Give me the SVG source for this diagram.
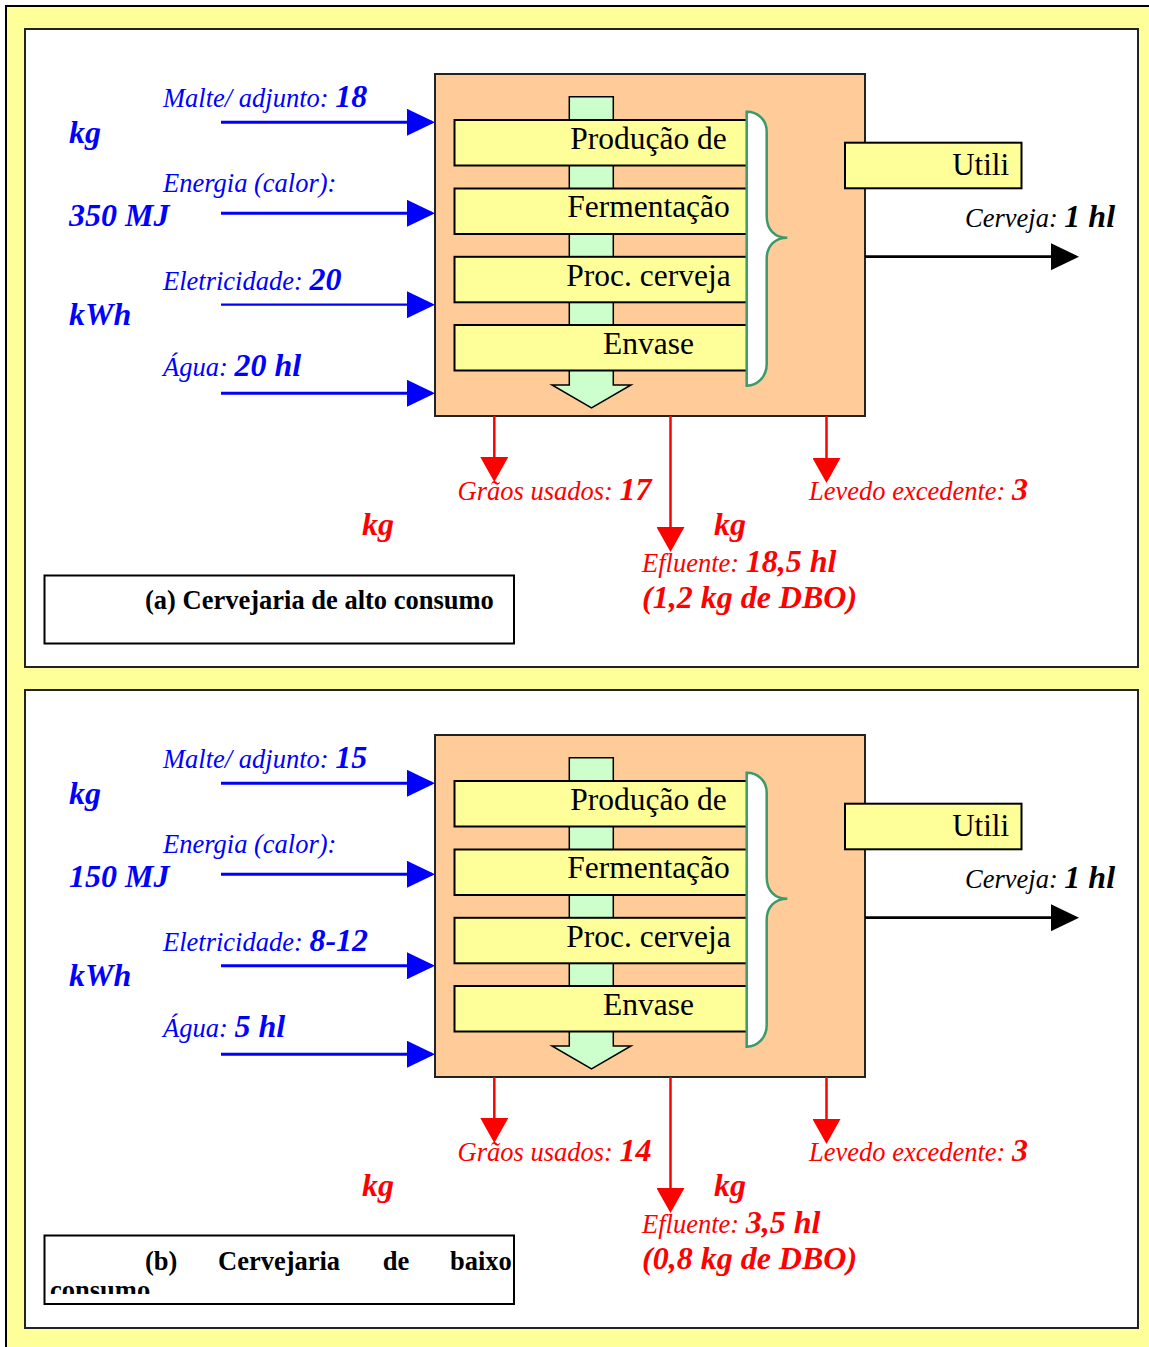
<svg xmlns="http://www.w3.org/2000/svg" width="1149" height="1347" viewBox="0 0 1149 1347">
<style>
text{font-family:"Liberation Serif","Times New Roman",serif}
.lbl{font-style:italic;font-size:26.5px}
.num{font-weight:bold;font-style:italic;font-size:32px}
.blue{fill:#0000FF}
.red{fill:#FF0000}
.blk{fill:#000}
.step rect{fill:#FFFF99;stroke:#000;stroke-width:2}
.step text{font-size:31.5px;text-anchor:middle;fill:#000}
.proc{fill:#FFCC99;stroke:#222;stroke-width:2}
.panel{fill:#FFFFFF;stroke:#222;stroke-width:2}
.bl{stroke:#0000FF;stroke-width:3;fill:none}
.rl{stroke:#FF0000;stroke-width:2.5;fill:none}
.kl{stroke:#000;stroke-width:2.7;fill:none}
.cap{font-weight:bold;font-size:26.5px;fill:#000}
</style>
<defs>
<marker id="hb" markerUnits="userSpaceOnUse" markerWidth="28" markerHeight="27" refX="25" refY="13.5" orient="auto"><path d="M0,0 L28,13.5 L0,27 Z" fill="#0000FF"/></marker>
<marker id="hr" markerUnits="userSpaceOnUse" markerWidth="25" markerHeight="28" refX="22" refY="14" orient="auto"><path d="M0,0 L25,14 L0,28 Z" fill="#FF0000"/></marker>
<marker id="hk" markerUnits="userSpaceOnUse" markerWidth="28" markerHeight="27" refX="25" refY="13.5" orient="auto"><path d="M0,0 L28,13.5 L0,27 Z" fill="#000"/></marker>
<clipPath id="capclip"><rect x="45" y="1236" width="468" height="58"/></clipPath>
</defs>
<rect x="6" y="6" width="1160" height="1360" fill="#FFFF99" stroke="#000" stroke-width="2"/>

<!-- Panel A -->
<g id="panel-a">
<rect class="panel" x="25" y="29" width="1113" height="638"/>
<g id="a-process">
<rect class="proc" x="435" y="74" width="430" height="342"/>
<path d="M569.3,96.7 L613.3,96.7 L613.3,385 L631,385 L591.5,408 L552,385 L569.3,385 Z" fill="#CCFFCC" stroke="#000" stroke-width="1.5"/>
</g>
<g id="a-step1" class="step"><rect x="454.5" y="120" width="292.5" height="45.5"/><text x="648.5" y="149">Produção de</text></g>
<g id="a-step2" class="step"><rect x="454.5" y="188.5" width="292.5" height="45.5"/><text x="648.5" y="216.5">Fermentação</text></g>
<g id="a-step3" class="step"><rect x="454.5" y="256.8" width="292.5" height="45.5"/><text x="648.5" y="285.5">Proc. cerveja</text></g>
<g id="a-step4" class="step"><rect x="454.5" y="325" width="292.5" height="45.5"/><text x="648.5" y="353.5">Envase</text></g>
<g id="a-brace"><path d="M746.7,111.7 C758,111.7 766.7,120 766.7,131.7 L766.7,216 C766.7,230 775,237.7 787.3,237.7 C775,237.7 766.7,246 766.7,259 L766.7,364 C766.7,376 758,385.7 746.7,385.7 Z" fill="#FFFFFF" stroke="#3A9A6A" stroke-width="2.5"/></g>
<g id="a-util" class="step"><rect x="845" y="142.7" width="176.5" height="45.6"/><text x="1009" y="174.5" style="text-anchor:end;font-size:31px">Utili</text></g>
<g id="a-connectors">
<line class="bl" x1="221" y1="122.3" x2="432" y2="122.3" marker-end="url(#hb)"/>
<line class="bl" x1="221" y1="213.3" x2="432" y2="213.3" marker-end="url(#hb)"/>
<line class="bl" x1="221" y1="304.7" x2="432" y2="304.7" marker-end="url(#hb)" style="stroke-width:2.2"/>
<line class="bl" x1="221" y1="393.3" x2="432" y2="393.3" marker-end="url(#hb)"/>
<line class="kl" x1="865" y1="256.7" x2="1076" y2="256.7" marker-end="url(#hk)"/>
<line class="rl" x1="494.3" y1="416" x2="494.3" y2="479" marker-end="url(#hr)"/>
<line class="rl" x1="670.5" y1="416" x2="670.5" y2="549" marker-end="url(#hr)"/>
<line class="rl" x1="826.5" y1="416" x2="826.5" y2="480" marker-end="url(#hr)"/>
</g>
<g id="a-labels">
<text class="lbl blue" x="163" y="106.7">Malte/ adjunto: <tspan class="num">18</tspan></text>
<text class="num blue" x="69" y="143">kg</text>
<text class="lbl blue" x="163" y="191.5">Energia (calor):</text>
<text class="num blue" x="69" y="226">350 MJ</text>
<text class="lbl blue" x="163" y="290">Eletricidade: <tspan class="num">20</tspan></text>
<text class="num blue" x="69" y="325">kWh</text>
<text class="lbl blue" x="163" y="376">Água: <tspan class="num">20 hl</tspan></text>
<text class="lbl blk" x="965" y="226.7">Cerveja: <tspan class="num">1 hl</tspan></text>
<text class="lbl red" x="457.5" y="500">Grãos usados: <tspan class="num">17</tspan></text>
<text class="num red" x="362" y="535">kg</text>
<text class="lbl red" x="809" y="500">Levedo excedente: <tspan class="num">3</tspan></text>
<text class="num red" x="714" y="535">kg</text>
<text class="lbl red" x="642" y="572">Efluente: <tspan class="num">18,5 hl</tspan></text>
<text class="num red" x="642" y="608.3">(1,2 kg de DBO)</text>
</g>
<g id="a-caption"><rect x="44.5" y="575.5" width="469.5" height="68" fill="#FFF" stroke="#000" stroke-width="2"/><text class="cap" x="145" y="609">(a) Cervejaria de alto consumo</text></g>
</g>

<!-- Panel B -->
<g id="panel-b">
<g transform="translate(0,661)">
<rect class="panel" x="25" y="29" width="1113" height="638"/>
<g id="b-process">
<rect class="proc" x="435" y="74" width="430" height="342"/>
<path d="M569.3,96.7 L613.3,96.7 L613.3,385 L631,385 L591.5,408 L552,385 L569.3,385 Z" fill="#CCFFCC" stroke="#000" stroke-width="1.5"/>
</g>
<g id="b-step1" class="step"><rect x="454.5" y="120" width="292.5" height="45.5"/><text x="648.5" y="149">Produção de</text></g>
<g id="b-step2" class="step"><rect x="454.5" y="188.5" width="292.5" height="45.5"/><text x="648.5" y="216.5">Fermentação</text></g>
<g id="b-step3" class="step"><rect x="454.5" y="256.8" width="292.5" height="45.5"/><text x="648.5" y="285.5">Proc. cerveja</text></g>
<g id="b-step4" class="step"><rect x="454.5" y="325" width="292.5" height="45.5"/><text x="648.5" y="353.5">Envase</text></g>
<g id="b-brace"><path d="M746.7,111.7 C758,111.7 766.7,120 766.7,131.7 L766.7,216 C766.7,230 775,237.7 787.3,237.7 C775,237.7 766.7,246 766.7,259 L766.7,364 C766.7,376 758,385.7 746.7,385.7 Z" fill="#FFFFFF" stroke="#3A9A6A" stroke-width="2.5"/></g>
<g id="b-util" class="step"><rect x="845" y="142.7" width="176.5" height="45.6"/><text x="1009" y="174.5" style="text-anchor:end;font-size:31px">Utili</text></g>
<g id="b-connectors">
<line class="bl" x1="221" y1="122.3" x2="432" y2="122.3" marker-end="url(#hb)"/>
<line class="bl" x1="221" y1="213.3" x2="432" y2="213.3" marker-end="url(#hb)"/>
<line class="bl" x1="221" y1="304.7" x2="432" y2="304.7" marker-end="url(#hb)"/>
<line class="bl" x1="221" y1="393.3" x2="432" y2="393.3" marker-end="url(#hb)"/>
<line class="kl" x1="865" y1="256.7" x2="1076" y2="256.7" marker-end="url(#hk)"/>
<line class="rl" x1="494.3" y1="416" x2="494.3" y2="479" marker-end="url(#hr)"/>
<line class="rl" x1="670.5" y1="416" x2="670.5" y2="549" marker-end="url(#hr)"/>
<line class="rl" x1="826.5" y1="416" x2="826.5" y2="480" marker-end="url(#hr)"/>
</g>
<g id="b-labels">
<text class="lbl blue" x="163" y="106.7">Malte/ adjunto: <tspan class="num">15</tspan></text>
<text class="num blue" x="69" y="143">kg</text>
<text class="lbl blue" x="163" y="191.5">Energia (calor):</text>
<text class="num blue" x="69" y="226">150 MJ</text>
<text class="lbl blue" x="163" y="290">Eletricidade: <tspan class="num">8-12</tspan></text>
<text class="num blue" x="69" y="325">kWh</text>
<text class="lbl blue" x="163" y="376">Água: <tspan class="num">5 hl</tspan></text>
<text class="lbl blk" x="965" y="226.7">Cerveja: <tspan class="num">1 hl</tspan></text>
<text class="lbl red" x="457.5" y="500">Grãos usados: <tspan class="num">14</tspan></text>
<text class="num red" x="362" y="535">kg</text>
<text class="lbl red" x="809" y="500">Levedo excedente: <tspan class="num">3</tspan></text>
<text class="num red" x="714" y="535">kg</text>
<text class="lbl red" x="642" y="572">Efluente: <tspan class="num">3,5 hl</tspan></text>
<text class="num red" x="642" y="608.3">(0,8 kg de DBO)</text>
</g>
</g>
<g id="b-caption"><rect x="44.5" y="1235.5" width="469.5" height="68.5" fill="#FFF" stroke="#000" stroke-width="2"/>
<g clip-path="url(#capclip)">
<text class="cap" x="145" y="1270">(b)</text>
<text class="cap" x="218" y="1270">Cervejaria</text>
<text class="cap" x="382.7" y="1270">de</text>
<text class="cap" x="450" y="1270">baixo</text>
<text class="cap" x="50" y="1299">consumo</text>
</g></g>
</g>
</svg>
